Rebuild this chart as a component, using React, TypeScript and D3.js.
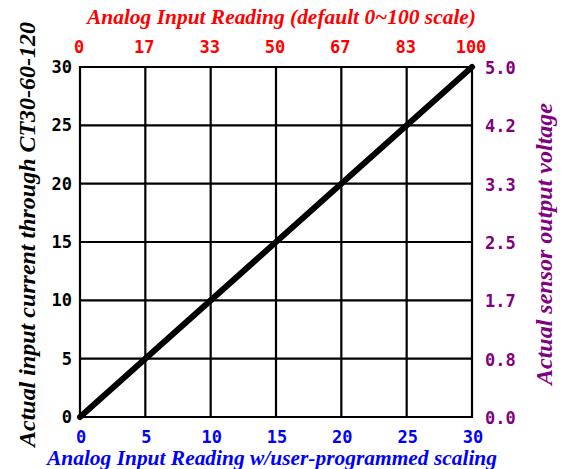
import React from "react";
import * as d3 from "d3";

const xTicks = [0, 5, 10, 15, 20, 25, 30];
const yTicks = [0, 5, 10, 15, 20, 25, 30];
const topTickLabels = ["0", "17", "33", "50", "67", "83", "100"];
const rightTickLabels = ["0.0", "0.8", "1.7", "2.5", "3.3", "4.2", "5.0"];
const lineX = [0, 30];
const lineY = [0, 30];

const W = 562, H = 469;
const M = { left: 80, right: 90, top: 67, bottom: 52 };

export default function App() {
  const x = d3.scaleLinear().domain([0, 30]).range([M.left, W - M.right]);
  const y = d3.scaleLinear().domain([0, 30]).range([H - M.bottom, M.top]);
  const line = d3.line<number>().x((d, i) => x(lineX[i])).y((d, i) => y(lineY[i]));
  const mono = "'DejaVu Sans Mono', monospace";
  const serif = "'Liberation Serif', 'Times New Roman', serif";
  const x0 = x(0), x1 = x(30), y0 = y(0), y1 = y(30);
  return (
    <svg width={W} height={H} style={{ position: "absolute", left: 0, top: 0 }}>
      <rect width={W} height={H} fill="white" />
      {xTicks.map((t) => (
        <line key={"gx" + t} x1={x(t)} x2={x(t)} y1={y0 + 1} y2={y1 - 1} stroke="black" strokeWidth={2.2} />
      ))}
      {yTicks.map((t) => (
        <line key={"gy" + t} x1={x0 - 1} x2={x1 + 1} y1={y(t)} y2={y(t)} stroke="black" strokeWidth={2.2} />
      ))}
      <path d={line(lineX) || ""} stroke="black" strokeWidth={6} fill="none" strokeLinecap="round" />
      {xTicks.map((t) => (
        <text key={"bx" + t} x={x(t) + 1} y={443} textAnchor="middle" fontFamily={mono} fontWeight="bold" fontSize={17} fill="#0000ff">{t}</text>
      ))}
      {xTicks.map((t, i) => (
        <text key={"tx" + t} x={x(t) - 1} y={53} textAnchor="middle" fontFamily={mono} fontWeight="bold" fontSize={17} fill="#ff0000">{topTickLabels[i]}</text>
      ))}
      {yTicks.map((t) => (
        <text key={"ly" + t} x={72} y={y(t)} dy="0.36em" textAnchor="end" fontFamily={mono} fontWeight="bold" fontSize={17} fill="black">{t}</text>
      ))}
      {yTicks.map((t, i) => (
        <text key={"ry" + t} x={485} y={y(t) + 1} dy="0.36em" textAnchor="start" fontFamily={mono} fontWeight="bold" fontSize={17} fill="#800080">{rightTickLabels[i]}</text>
      ))}
      <text x={281.5} y={24} textAnchor="middle" fontFamily={serif} fontStyle="italic" fontWeight="bold" fontSize={21.5} fill="#ff0000" textLength={389} lengthAdjust="spacingAndGlyphs">Analog Input Reading (default 0~100 scale)</text>
      <text x={272} y={465} textAnchor="middle" fontFamily={serif} fontStyle="italic" fontWeight="bold" fontSize={21.5} fill="#0000ff" textLength={450} lengthAdjust="spacingAndGlyphs">Analog Input Reading w/user-programmed scaling</text>
      <text transform={`translate(35,234.5) rotate(-90)`} textAnchor="middle" fontFamily={serif} fontStyle="italic" fontWeight="bold" fontSize={23.5} fill="black" textLength={425} lengthAdjust="spacingAndGlyphs">Actual input current through CT30-60-120</text>
      <text transform={`translate(552,244) rotate(-90)`} textAnchor="middle" fontFamily={serif} fontStyle="italic" fontWeight="bold" fontSize={23.5} fill="#800080" textLength={282} lengthAdjust="spacingAndGlyphs">Actual sensor output voltage</text>
    </svg>
  );
}
